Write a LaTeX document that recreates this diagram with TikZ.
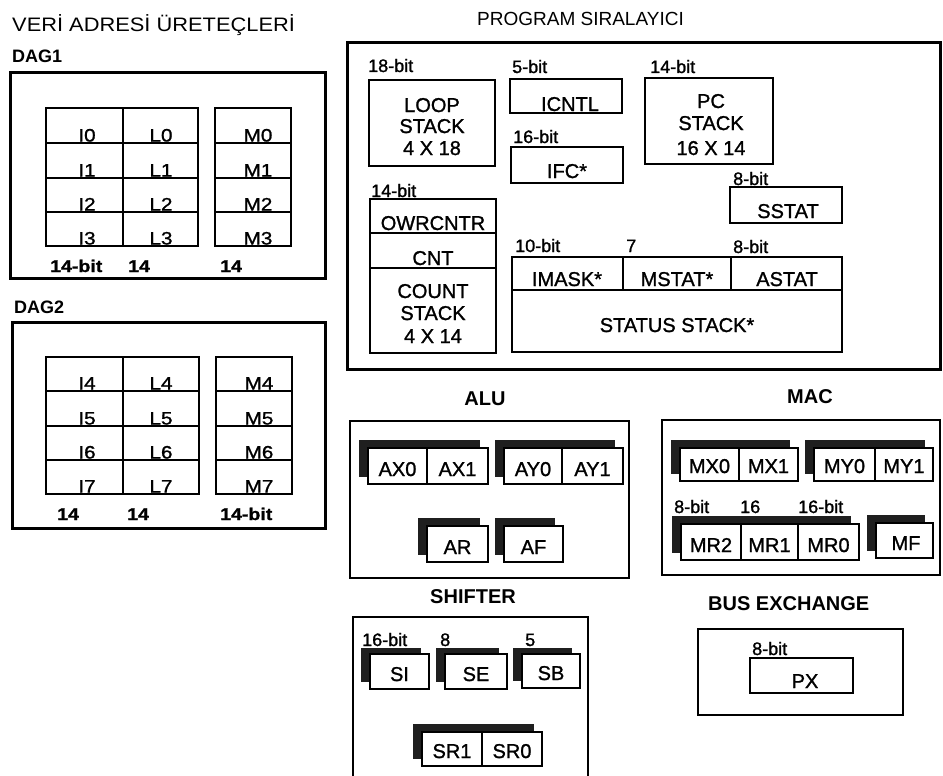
\documentclass[tikz,border=0pt]{standalone}
\usepackage{fontspec}
\setmainfont{Liberation Sans}
\newfontfamily\titlefont[FakeStretch=1.12]{Liberation Sans}
\newfontfamily\dagfont[FakeStretch=1.15,FakeBold=1.2]{Liberation Sans}
\newfontfamily\regfont[FakeBold=1.2]{Liberation Sans}
% box node: style, name, x1, y1, x2, y2 (pixel coordinates, y downward)
\newcommand\bx[6]{\node[#1,anchor=north west,minimum width={#5-#3},minimum height={#6-#4}] (#2) at (#3,#4) {};}
% shadow behind a register group: name, x1, y1, x2, y2 of the front group
\newcommand\shd[5]{\node[shade,anchor=north west,minimum width={#4-#2},minimum height={#5-#3}] (#1) at ({#2-9},{#3-8}) {};}
% text node: [style] name, x, y(baseline), text
\newcommand\tx[5][reg]{\node[#1] (#2) at (#3,#4) {#5};}
\begin{document}
\begin{tikzpicture}[x=1pt,y=-1pt,
  cell/.style={draw,line width=1.6pt,fill=white,inner sep=0pt,outer sep=0pt},
  shade/.style={fill=black!88,draw=black!88,line width=1pt,inner sep=0pt,outer sep=0pt},
  frame/.style={draw,line width=3pt,inner sep=0pt,outer sep=0pt},
  unit/.style={draw,line width=2.5pt,inner sep=0pt,outer sep=0pt},
  reg/.style={anchor=base,inner sep=0pt,font=\regfont\fontsize{20}{20}\selectfont},
  dagt/.style={anchor=base,inner sep=0pt,font=\dagfont\fontsize{18}{18}\selectfont},
  dagb/.style={anchor=base west,inner sep=0pt,font=\dagfont\bfseries\fontsize{17}{17}\selectfont},
  bits/.style={anchor=base west,inner sep=0pt,font=\regfont\fontsize{18}{18}\selectfont},
  head/.style={anchor=base,inner sep=0pt,font=\bfseries\fontsize{20}{20}\selectfont},
  ttl/.style={anchor=base west,inner sep=0pt,font=\fontsize{19}{19}\selectfont},
]
\useasboundingbox (0,0) rectangle (943,776);
\fill[white] (0,0) rectangle (943,776);
\clip (0,0) rectangle (943,776);

% ---------------- titles ----------------
\tx[ttl,font=\titlefont\fontsize{19.5}{19.5}\selectfont]{ttlvag}{12}{32}{VERİ ADRESİ ÜRETEÇLERİ}
\tx[ttl]{ttlprog}{477}{26}{PROGRAM SIRALAYICI}

% ---------------- DAG1 ----------------
\tx[ttl,font=\bfseries\fontsize{18}{18}\selectfont]{dag1t}{12}{63}{DAG1}
\bx{frame}{dag1}{10}{73}{325}{278}
\foreach \i/\ya/\yb in {0/108/143,1/143/178,2/178/212,3/212/246}{
  \bx{cell}{I\i}{46}{\ya}{123}{\yb}
  \bx{cell}{L\i}{123}{\ya}{198}{\yb}
  \bx{cell}{M\i}{215}{\ya}{291}{\yb}
  \tx[dagt]{tI\i}{87}{\yb-1.5}{I\i}
  \tx[dagt]{tL\i}{161}{\yb-1.5}{L\i}
  \tx[dagt]{tM\i}{258}{\yb-1.5}{M\i}
}
\tx[dagb]{d1b1}{50}{272}{14-bit}
\tx[dagb]{d1b2}{128}{272}{14}
\tx[dagb]{d1b3}{220}{272}{14}

% ---------------- DAG2 ----------------
\tx[ttl,font=\bfseries\fontsize{18}{18}\selectfont]{dag2t}{14}{313}{DAG2}
\bx{frame}{dag2}{12}{322}{325}{528}
\foreach \i/\ya/\yb in {4/357/391,5/391/426,6/426/460,7/460/494}{
  \bx{cell}{I\i}{46}{\ya}{123}{\yb}
  \bx{cell}{L\i}{123}{\ya}{199}{\yb}
  \bx{cell}{M\i}{216}{\ya}{292}{\yb}
  \tx[dagt]{tI\i}{87}{\yb-1.5}{I\i}
  \tx[dagt]{tL\i}{161}{\yb-1.5}{L\i}
  \tx[dagt]{tM\i}{259}{\yb-1.5}{M\i}
}
\tx[dagb]{d2b1}{57}{520}{14}
\tx[dagb]{d2b2}{127}{520}{14}
\tx[dagb]{d2b3}{220}{520}{14-bit}

% ---------------- PROGRAM SEQUENCER ----------------
\bx{frame}{prog}{347}{43}{940}{369}
\tx[bits]{bloop}{368}{72}{18-bit}
\bx{cell}{loop}{369}{80}{495}{166}
\tx{loop1}{432}{112}{LOOP}
\tx{loop2}{432}{133}{STACK}
\tx{loop3}{432}{155}{4 X 18}

\tx[bits]{bicntl}{512}{73}{5-bit}
\bx{cell}{icntl}{510}{79}{622}{113}
\tx{ticntl}{570}{111}{ICNTL}
\tx[bits]{bifc}{513}{143}{16-bit}
\bx{cell}{ifc}{511}{147}{623}{183}
\tx{tifc}{567}{178}{IFC*}

\tx[bits]{bpc}{650}{73}{14-bit}
\bx{cell}{pc}{645}{78}{773}{164}
\tx{pc1}{711}{108}{PC}
\tx{pc2}{711}{130}{STACK}
\tx{pc3}{711}{155}{16 X 14}

\tx[bits]{bsstat}{733}{185}{8-bit}
\bx{cell}{sstat}{730}{187}{842}{223}
\tx{tsstat}{788}{218}{SSTAT}

\tx[bits]{bcnt}{371}{197}{14-bit}
\bx{cell}{owr}{370}{199}{496}{233}
\bx{cell}{cnt}{370}{233}{496}{268}
\bx{cell}{cstack}{370}{268}{496}{353}
\tx{towr}{433}{230}{OWRCNTR}
\tx{tcnt}{433}{265}{CNT}
\tx{cs1}{433}{298}{COUNT}
\tx{cs2}{433}{320}{STACK}
\tx{cs3}{433}{343}{4 X 14}

\tx[bits]{bimask}{515}{252}{10-bit}
\tx[bits]{bmstat}{626}{252}{7}
\tx[bits]{bastat}{733}{253}{8-bit}
\bx{cell}{imask}{512}{257}{623}{290}
\bx{cell}{mstat}{623}{257}{731}{290}
\bx{cell}{astat}{731}{257}{842}{290}
\bx{cell}{sstack}{512}{290}{842}{352}
\tx{timask}{567}{286}{IMASK*}
\tx{tmstat}{677}{286}{MSTAT*}
\tx{tastat}{787}{286}{ASTAT}
\tx{tsstack}{677}{332}{STATUS STACK*}

% ---------------- ALU ----------------
\tx[head]{alut}{485}{405}{ALU}
\bx{unit}{alu}{350}{421}{629}{578}
\shd{AXs}{368}{448}{488}{484}
\bx{cell}{AX0}{368}{448}{427}{484}
\bx{cell}{AX1}{427}{448}{488}{484}
\tx{tAX0}{397.5}{476}{AX0}
\tx{tAX1}{457.5}{476}{AX1}
\shd{AYs}{504}{448}{623}{484}
\bx{cell}{AY0}{504}{448}{562}{484}
\bx{cell}{AY1}{562}{448}{623}{484}
\tx{tAY0}{533}{476}{AY0}
\tx{tAY1}{592.5}{476}{AY1}
\shd{ARs}{427}{526}{488}{562}
\bx{cell}{AR}{427}{526}{488}{562}
\tx{tAR}{457.5}{554}{AR}
\shd{AFs}{504}{526}{563}{562}
\bx{cell}{AF}{504}{526}{563}{562}
\tx{tAF}{533.5}{554}{AF}

% ---------------- MAC ----------------
\tx[head]{mact}{810}{403}{MAC}
\bx{unit}{mac}{662}{420}{940}{575}
\shd{MXs}{680}{448}{798}{481}
\bx{cell}{MX0}{680}{448}{739}{481}
\bx{cell}{MX1}{739}{448}{798}{481}
\tx{tMX0}{709.5}{473}{MX0}
\tx{tMX1}{768.5}{473}{MX1}
\shd{MYs}{814}{448}{933}{481}
\bx{cell}{MY0}{814}{448}{875}{481}
\bx{cell}{MY1}{875}{448}{933}{481}
\tx{tMY0}{844.5}{473}{MY0}
\tx{tMY1}{904}{473}{MY1}
\shd{MRs}{681}{524}{859}{560}
\shd{MFs}{876}{523}{933}{558}
\tx[bits]{bmr2}{674}{513}{8-bit}
\tx[bits]{bmr1}{740}{513}{16}
\tx[bits]{bmr0}{798}{513}{16-bit}
\bx{cell}{MR2}{681}{524}{741}{560}
\bx{cell}{MR1}{741}{524}{798}{560}
\bx{cell}{MR0}{798}{524}{859}{560}
\tx{tMR2}{711}{552}{MR2}
\tx{tMR1}{769.5}{552}{MR1}
\tx{tMR0}{828.5}{552}{MR0}
\bx{cell}{MF}{876}{523}{933}{558}
\tx{tMF}{906}{550}{MF}

% ---------------- SHIFTER ----------------
\tx[head]{shiftt}{473}{603}{SHIFTER}
\bx{unit}{shift}{353}{617}{588}{820}
\shd{SIs}{370}{656}{429}{689}
\shd{SEs}{445}{656}{507}{689}
\shd{SBs}{522}{656}{580}{688}
\tx[bits]{bsi}{362}{646}{16-bit}
\tx[bits]{bse}{440}{646}{8}
\tx[bits]{bsb}{525}{646}{5}
\bx{cell}{SI}{370}{654}{429}{689}
\bx{cell}{SE}{445}{654}{507}{689}
\bx{cell}{SB}{522}{654}{580}{688}
\tx{tSI}{399.5}{681}{SI}
\tx{tSE}{476}{681}{SE}
\tx{tSB}{551}{680}{SB}
\shd{SRs}{422}{732}{542}{766}
\bx{cell}{SR1}{422}{732}{482}{766}
\bx{cell}{SR0}{482}{732}{542}{766}
\tx{tSR1}{452}{758}{SR1}
\tx{tSR0}{512}{758}{SR0}

% ---------------- BUS EXCHANGE ----------------
\tx[head,anchor=base west]{bust}{708}{610}{BUS EXCHANGE}
\bx{unit}{bus}{698}{629}{903}{715}
\tx[bits]{bpx}{752}{655}{8-bit}
\bx{cell}{PX}{750}{658}{853}{693}
\tx{tPX}{805}{688}{PX}
\end{tikzpicture}
\end{document}
